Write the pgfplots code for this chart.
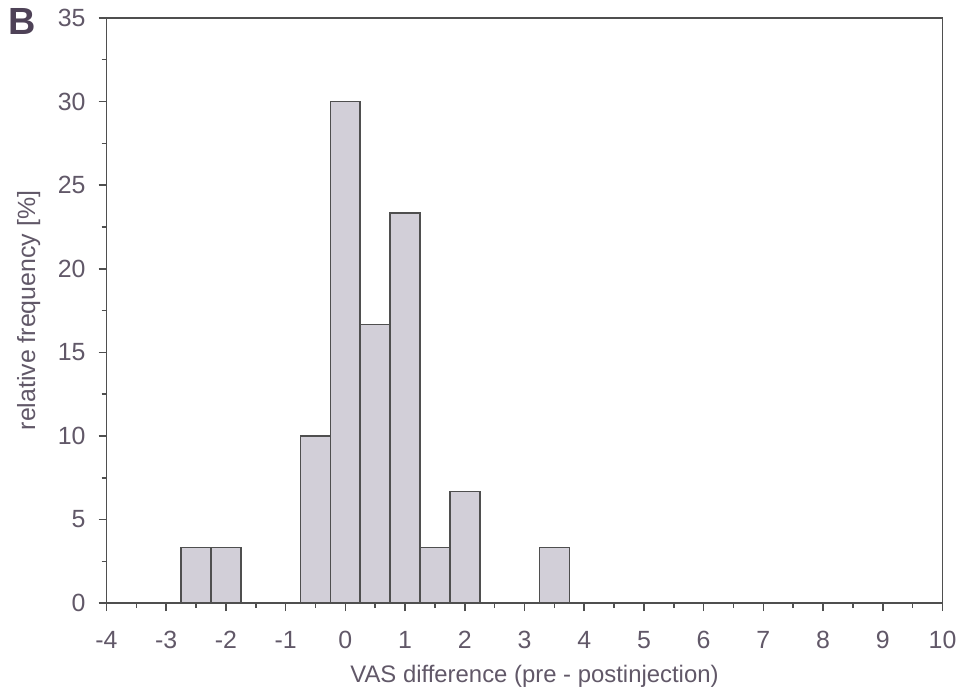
\documentclass[border=0pt]{standalone}
\usepackage{fontspec}
\setmainfont{Liberation Sans}
\usepackage{pgfplots}
\pgfplotsset{compat=1.18}
\usetikzlibrary{calc}
\definecolor{txt}{HTML}{615868}
\definecolor{axc}{HTML}{4F4F4F}
\definecolor{barfill}{HTML}{D2CFD8}
\definecolor{blab}{HTML}{4E4257}
\begin{document}
\begin{tikzpicture}
\begin{axis}[
  name=ax,
  at={(0,0)}, anchor=south west,
  scale only axis,
  width=420pt, height=294pt,
  xmin=-4, xmax=10, ymin=0, ymax=35,
  xtick={-4,...,10}, ytick={0,5,...,35},
  minor xtick={-3.5,-2.5,...,9.5},
  minor ytick={2.5,7.5,...,32.5},
  tick align=outside,
  major tick length=4pt, minor tick length=2.5pt,
  xtick pos=bottom, ytick pos=left,
  axis line style={axc, line width=0.8pt},
  every tick/.style={axc, line width=0.8pt},
  tick label style={font=\fontsize{12.5}{14}\selectfont, text=txt},
  xlabel style={font=\fontsize{12}{14}\selectfont, text=txt, yshift=-1.5pt, xshift=5pt},
  ylabel style={font=\fontsize{12.5}{14}\selectfont, text=txt, yshift=2pt},
  /pgf/number format/assume math mode=true,
  xlabel={VAS difference (pre - postinjection)},
  ylabel={relative frequency [\%]},
  xticklabel style={yshift=-6.5pt},
  yticklabel style={xshift=-3pt},
]
\addplot[ybar, bar width=0.5, fill=barfill, draw=axc, line width=0.8pt]
coordinates {
(-2.5,3.33) (-2,3.33) (-0.5,10) (0,30) (0.5,16.67) (1,23.33) (1.5,3.33) (2,6.67) (3.5,3.33)
};
\end{axis}
\node[font=\fontsize{19}{21}\selectfont\bfseries, text=blab] at ($(ax.north west)+(-42.5pt,-2pt)$) {B};
\path ($(ax.south west)+(-53.5pt,-45pt)$) rectangle ($(ax.north east)+(8pt,9pt)$);
\end{tikzpicture}
\end{document}
